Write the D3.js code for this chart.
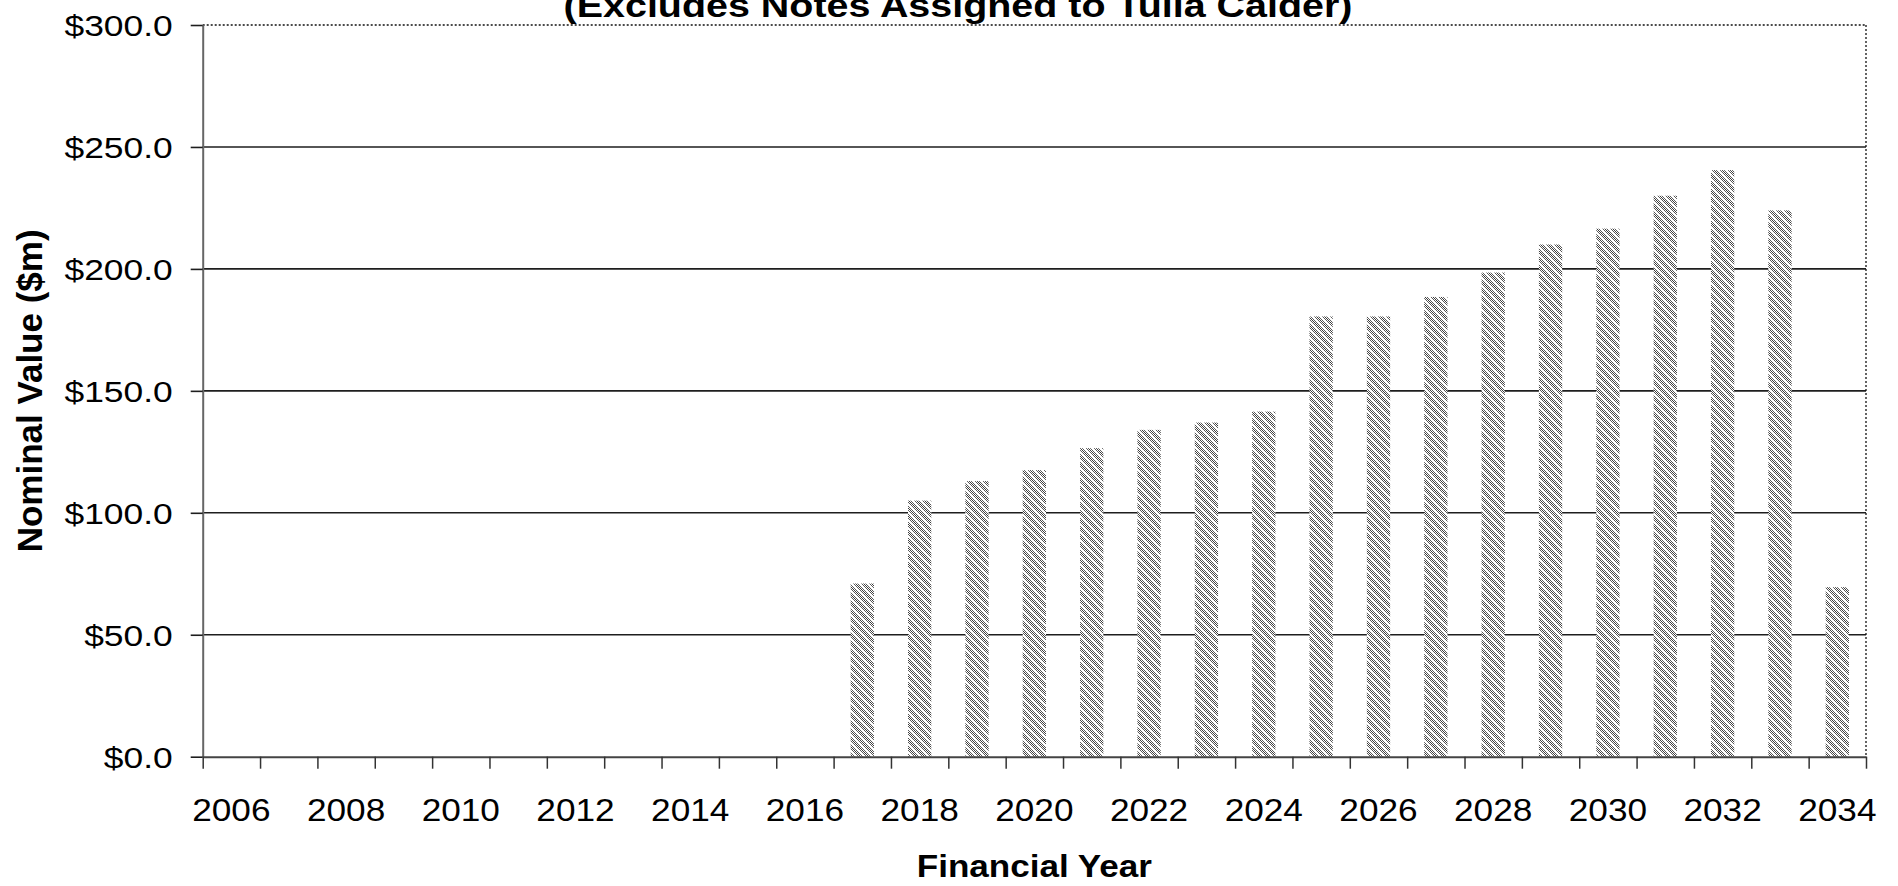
<!DOCTYPE html>
<html>
<head>
<meta charset="utf-8">
<script src="https://cdn.jsdelivr.net/npm/d3@7"></script>
<style>
  html, body { margin: 0; padding: 0; background: #fff; overflow: hidden; }
  svg { display: block; }
  text { font-family: "Liberation Sans", Arial, Helvetica, sans-serif; fill: #000; }
</style>
</head>
<body>
<svg id="chart" width="1898" height="886"></svg>
<script>
// Financial years on the category axis
const years = [2006, 2007, 2008, 2009, 2010, 2011, 2012, 2013, 2014, 2015,
               2016, 2017, 2018, 2019, 2020, 2021, 2022, 2023, 2024, 2025,
               2026, 2027, 2028, 2029, 2030, 2031, 2032, 2033, 2034];
// Nominal value maturing in each year ($m); null = nothing maturing
const nominalValues = [null, null, null, null, null, null, null, null, null, null,
                       null, 71, 105, 113, 117.5, 126.5, 134, 137, 141.5, 180.5,
                       180.5, 188.5, 198.5, 210, 216.5, 230, 240.5, 224, 69.5];
// Axis tick labels
const yTicks = [0, 50, 100, 150, 200, 250, 300];
const xLabelYears = [2006, 2008, 2010, 2012, 2014, 2016, 2018, 2020,
                     2022, 2024, 2026, 2028, 2030, 2032, 2034];

const titleText = "(Excludes Notes Assigned to Tulla Calder)";
const xTitleText = "Financial Year";
const yTitleText = "Nominal Value ($m)";

const svg = d3.select("#chart");
const plot = { left: 202.7, right: 1866, top: 25, bottom: 756.7 };

// Pixel dither pattern with faint diagonal texture for the bars
const defs = svg.append("defs");
const pat = defs.append("pattern")
  .attr("id", "barFill")
  .attr("patternUnits", "userSpaceOnUse")
  .attr("width", 8).attr("height", 8);
pat.append("rect").attr("width", 8).attr("height", 8).attr("fill", "#ffffff");
const cells = [];
for (let py = 0; py < 8; py++) {
  for (let px = 0; px < 8; px++) {
    const diag = ((px - py + 16) % 8);
    if (diag === 0) cells.push({ px, py, c: "#3a3a3a" });
    else if (diag === 4 || diag === 5) continue;
    else if ((px + py) % 2 === 0) cells.push({ px, py, c: "#5a5a5a" });
  }
}
pat.selectAll("rect.px").data(cells).join("rect")
  .attr("class", "px")
  .attr("x", d => d.px).attr("y", d => d.py)
  .attr("width", 1).attr("height", 1)
  .attr("fill", d => d.c);

// Scales
const x = d3.scaleBand()
  .domain(years)
  .range([plot.left, plot.right])
  .paddingInner(0.594)
  .paddingOuter(0.297);
const xEdge = d3.scaleLinear().domain([0, years.length]).range([plot.left, plot.right]);
const y = d3.scaleLinear().domain([0, 300]).range([plot.bottom, plot.top]);

// Horizontal gridlines
svg.append("g").attr("class", "grid")
  .selectAll("line")
  .data(yTicks.filter(v => v > 0 && v < 300))
  .join("line")
  .attr("x1", plot.left).attr("x2", plot.right)
  .attr("y1", d => y(d)).attr("y2", d => y(d))
  .attr("stroke", "#1e1e1e").attr("stroke-width", 1.6);

// Dotted plot-area border (top and right)
svg.append("line")
  .attr("x1", plot.left).attr("x2", plot.right)
  .attr("y1", y(300)).attr("y2", y(300))
  .attr("stroke", "#111").attr("stroke-width", 1.3)
  .attr("stroke-dasharray", "2,2");
svg.append("line")
  .attr("x1", plot.right).attr("x2", plot.right)
  .attr("y1", y(300)).attr("y2", y(0))
  .attr("stroke", "#111").attr("stroke-width", 1.3)
  .attr("stroke-dasharray", "2,2");

// Bars
svg.append("g").attr("class", "bars")
  .selectAll("rect")
  .data(years.map((yr, i) => ({ yr, v: nominalValues[i] })).filter(d => d.v != null))
  .join("rect")
  .attr("x", d => x(d.yr))
  .attr("width", x.bandwidth())
  .attr("y", d => y(d.v))
  .attr("height", d => y(0) - y(d.v))
  .attr("fill", "url(#barFill)");

// Y axis
const yLabelScale = 1.18;
const yAxis = svg.append("g")
  .attr("transform", `translate(${plot.left},0)`)
  .call(d3.axisLeft(y).tickValues(yTicks).tickSize(12).tickSizeOuter(0)
    .tickFormat(d => "$" + d.toFixed(1)));
yAxis.select(".domain").attr("stroke", "#666").attr("stroke-width", 2);
yAxis.selectAll(".tick line").attr("stroke", "#1e1e1e").attr("stroke-width", 1.6);
yAxis.selectAll(".tick text")
  .attr("x", -30 / yLabelScale)
  .attr("dy", "0.36em")
  .attr("transform", `scale(${yLabelScale},1)`)
  .style("font-size", "30px")
  .style("font-family", "'Liberation Sans', Arial, sans-serif")
  .attr("fill", "#000");

// X axis: tick marks on category boundaries
const xTickAxis = svg.append("g")
  .attr("transform", `translate(0,${plot.bottom})`)
  .call(d3.axisBottom(xEdge).tickValues(d3.range(years.length + 1))
    .tickSize(12).tickSizeOuter(0).tickFormat(""));
xTickAxis.select(".domain").attr("stroke", "#444").attr("stroke-width", 2);
xTickAxis.selectAll(".tick line").attr("stroke", "#333").attr("stroke-width", 1.5);

// X axis labels, every second year, centred on the category
const xLabelScale = 1.1;
const xLabelAxis = svg.append("g")
  .attr("transform", `translate(0,${plot.bottom})`)
  .call(d3.axisBottom(x).tickValues(xLabelYears).tickSize(0).tickSizeOuter(0));
xLabelAxis.select(".domain").remove();
xLabelAxis.selectAll(".tick text")
  .attr("y", 64)
  .attr("dy", 0)
  .attr("transform", `scale(${xLabelScale},1)`)
  .style("font-size", "32px")
  .style("font-family", "'Liberation Sans', Arial, sans-serif")
  .attr("fill", "#000");

// Axis titles
svg.append("g")
  .attr("transform", `translate(${(plot.left + plot.right) / 2},877) scale(1.15,1)`)
  .append("text")
  .attr("text-anchor", "middle")
  .style("font-size", "30.5px")
  .style("font-weight", "bold")
  .text(xTitleText);

svg.append("text")
  .attr("transform", `translate(42,${(plot.top + plot.bottom) / 2}) rotate(-90)`)
  .attr("text-anchor", "middle")
  .style("font-size", "35px")
  .style("font-weight", "bold")
  .text(yTitleText);

// Chart title (subtitle line)
svg.append("g")
  .attr("transform", "translate(958,17) scale(1.16,1)")
  .append("text")
  .attr("text-anchor", "middle")
  .style("font-size", "34px")
  .style("font-weight", "bold")
  .text(titleText);
</script>
</body>
</html>
